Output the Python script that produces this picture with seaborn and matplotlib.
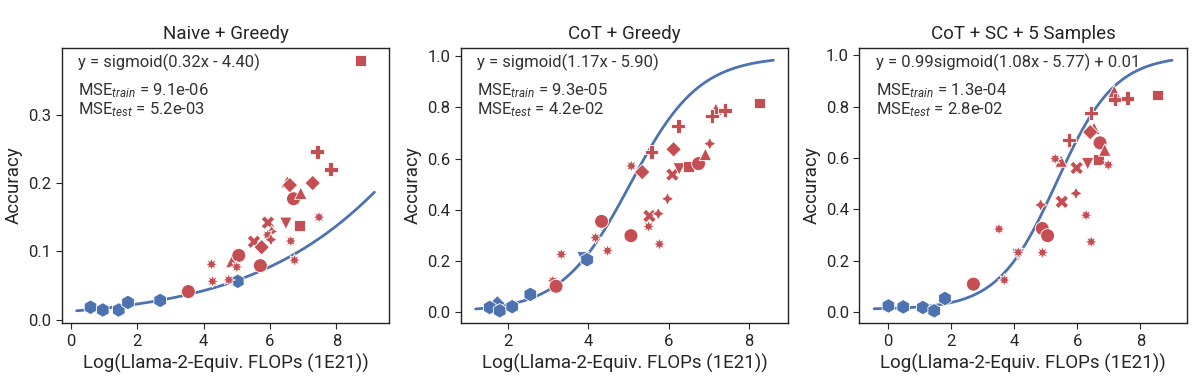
import numpy as np
import pandas as pd
import seaborn as sns
import matplotlib.pyplot as plt
from matplotlib.ticker import MultipleLocator

sns.set_style("white")
plt.rcParams['font.family'] = ['Roboto', 'DejaVu Sans']
plt.rcParams['mathtext.fontset'] = 'custom'
plt.rcParams['mathtext.rm'] = 'Roboto'
plt.rcParams['mathtext.it'] = 'Roboto:italic'

BLUE = "#4c72b0"
RED = "#c44e52"

titles = ["Naive + Greedy", "CoT + Greedy", "CoT + SC + 5 Samples"]
fit_text = ["y = sigmoid(0.32x - 4.40)", "y = sigmoid(1.17x - 5.90)",
            "y = 0.99sigmoid(1.08x - 5.77) + 0.01"]
mse_train = ["9.1e-06", "9.3e-05", "1.3e-04"]
mse_test = ["5.2e-03", "4.2e-02", "2.8e-02"]
y_step = [0.1, 0.2, 0.2]

# fit params: scale, slope, intercept, offset ; and x span of the fit curve
fit_scale = [1.0, 1.0, 0.99]
fit_slope = [0.32, 1.17, 1.08]
fit_icpt = [-4.40, -5.90, -5.77]
fit_off = [0.0, 0.0, 0.01]
fit_xmin = [0.17, 1.2, -0.43]
fit_xmax = [9.15, 8.6, 9.0]

# ---- Naive + Greedy
p1_x = [6.52, 4.85, 0.59, 0.96, 1.44, 1.72, 2.69, 5.03,
        8.72, 7.43, 7.83, 7.29, 6.60, 6.71, 6.93, 7.48, 6.48, 6.88, 5.94, 6.05,
        5.93, 5.52, 6.03, 5.75, 6.63, 5.06, 5.71, 6.74, 4.24, 5.00, 4.27, 4.76, 3.54]
p1_y = [0.202, 0.085, 0.018, 0.014, 0.014, 0.025, 0.028, 0.056,
        0.380, 0.246, 0.220, 0.200, 0.197, 0.177, 0.185, 0.150, 0.141, 0.138, 0.142, 0.129,
        0.124, 0.114, 0.117, 0.106, 0.115, 0.094, 0.079, 0.087, 0.081, 0.077, 0.056, 0.058, 0.041]
p1_shape = ["tri", "tri", "hex", "hex", "hex", "hex", "hex", "hex",
            "square", "plus", "plus", "diamond", "diamond", "circle", "tri", "star", "tridown", "square", "x", "star4",
            "star", "x", "star4", "diamond", "star", "circle", "circle", "star", "star", "star", "star", "star", "circle"]
p1_split = ["test", "test"] + ["train"] * 6 + ["test"] * 25

# ---- CoT + Greedy
p2_x = [7.17, 1.74, 1.55, 1.80, 2.11, 2.56, 3.87, 3.97,
        3.12, 3.20, 3.33, 4.18, 4.33, 4.48, 5.06, 5.07, 5.34, 5.57, 5.50, 5.52,
        5.74, 5.77, 5.97, 6.09, 6.12, 6.24, 6.26, 6.49, 6.74, 6.91, 7.02, 7.07, 7.40, 8.26]
p2_y = [0.793, 0.033, 0.017, 0.004, 0.020, 0.068, 0.211, 0.204,
        0.121, 0.100, 0.225, 0.290, 0.354, 0.239, 0.298, 0.571, 0.547, 0.625, 0.334, 0.375,
        0.384, 0.265, 0.442, 0.537, 0.636, 0.727, 0.559, 0.570, 0.580, 0.616, 0.658, 0.766, 0.789, 0.817]
p2_shape = ["tri", "diamond", "hex", "hex", "hex", "hex", "tridown", "hex",
            "star", "circle", "star", "star", "circle", "star", "circle", "star", "diamond", "plus", "star", "x",
            "star4", "star", "star4", "x", "diamond", "plus", "tridown", "square", "circle", "tri", "star4", "plus", "plus", "square"]
p2_split = ["test"] + ["train"] * 7 + ["test"] * 26

# ---- CoT + SC + 5 Samples
p3_x = [4.13, 6.53, 7.17, 5.49, 0.02, 0.49, 1.11, 1.47, 1.81,
        2.71, 3.52, 3.69, 4.13, 4.90, 4.84, 4.89, 5.06, 5.30, 5.51, 5.74,
        5.98, 5.96, 6.28, 6.33, 6.44, 6.44, 6.41, 6.68, 6.72, 6.87, 6.98, 7.19, 7.59, 8.55]
p3_y = [0.222, 0.716, 0.860, 0.588, 0.023, 0.019, 0.017, 0.004, 0.052,
        0.108, 0.323, 0.124, 0.232, 0.231, 0.417, 0.325, 0.297, 0.597, 0.429, 0.670,
        0.561, 0.462, 0.377, 0.578, 0.273, 0.776, 0.701, 0.595, 0.659, 0.631, 0.573, 0.828, 0.833, 0.846]
p3_shape = ["tridown", "tri", "tri", "tri", "hex", "hex", "hex", "hex", "hex",
            "circle", "star", "star", "star", "star", "star4", "circle", "circle", "star", "x", "plus",
            "x", "star4", "star", "tridown", "star", "plus", "diamond", "square", "circle", "tri", "star", "plus", "plus", "square"]
p3_split = ["train", "test", "test", "test"] + ["train"] * 5 + ["test"] * 25

markers = {"hex": "h", "circle": "o", "square": "s", "plus": "P", "x": "X",
           "diamond": "D", "tri": "^", "tridown": "v", "star": (8, 1, 0), "star4": (4, 1, 0)}
sizes = {"hex": 110, "circle": 100, "square": 60, "plus": 100, "x": 95,
         "diamond": 62, "tri": 80, "tridown": 80, "star": 85, "star4": 80}

panels = [(p1_x, p1_y, p1_shape, p1_split), (p2_x, p2_y, p2_shape, p2_split),
          (p3_x, p3_y, p3_shape, p3_split)]

fig = plt.figure(figsize=(11.96, 3.81), dpi=100)
lefts = [0.0516, 0.3852, 0.7185]

for i, (px, py, ps, sp) in enumerate(panels):
    ax = fig.add_axes([lefts[i], 0.1514, 0.2739, 0.7234])
    df = pd.DataFrame({"x": px, "y": py, "shape": ps, "split": sp})
    xs = np.linspace(fit_xmin[i], fit_xmax[i], 200)
    ys = fit_scale[i] / (1 + np.exp(-(fit_slope[i] * xs + fit_icpt[i]))) + fit_off[i]
    sns.lineplot(x=xs, y=ys, color=BLUE, lw=2, ax=ax, zorder=1)
    sns.scatterplot(data=df, x="x", y="y", hue="split", style="shape", size="shape",
                    markers=markers, sizes=sizes, palette={"train": BLUE, "test": RED},
                    edgecolor="white", linewidth=0.6, legend=False, ax=ax, zorder=3)
    ax.yaxis.set_major_locator(MultipleLocator(y_step[i]))
    ax.xaxis.set_major_locator(MultipleLocator(2))
    ax.set_title(titles[i], fontsize=13.5)
    ax.set_xlabel("Log(Llama-2-Equiv. FLOPs (1E21))", fontsize=13.5)
    ax.set_ylabel("Accuracy", fontsize=13.5)
    ax.tick_params(labelsize=12, length=4, direction="out", bottom=True, left=True)
    for s in ax.spines.values():
        s.set_color("#222222")
        s.set_linewidth(1)
    ax.text(0.05, 0.945, fit_text[i], transform=ax.transAxes, fontsize=12,
            color="#333333", va="center")
    ax.text(0.05, 0.845, "MSE$_{train}$ = " + mse_train[i], transform=ax.transAxes,
            fontsize=12, color="#333333", va="center")
    ax.text(0.05, 0.775, "MSE$_{test}$ = " + mse_test[i], transform=ax.transAxes,
            fontsize=12, color="#333333", va="center")

fig.savefig("out.png", dpi=100)
